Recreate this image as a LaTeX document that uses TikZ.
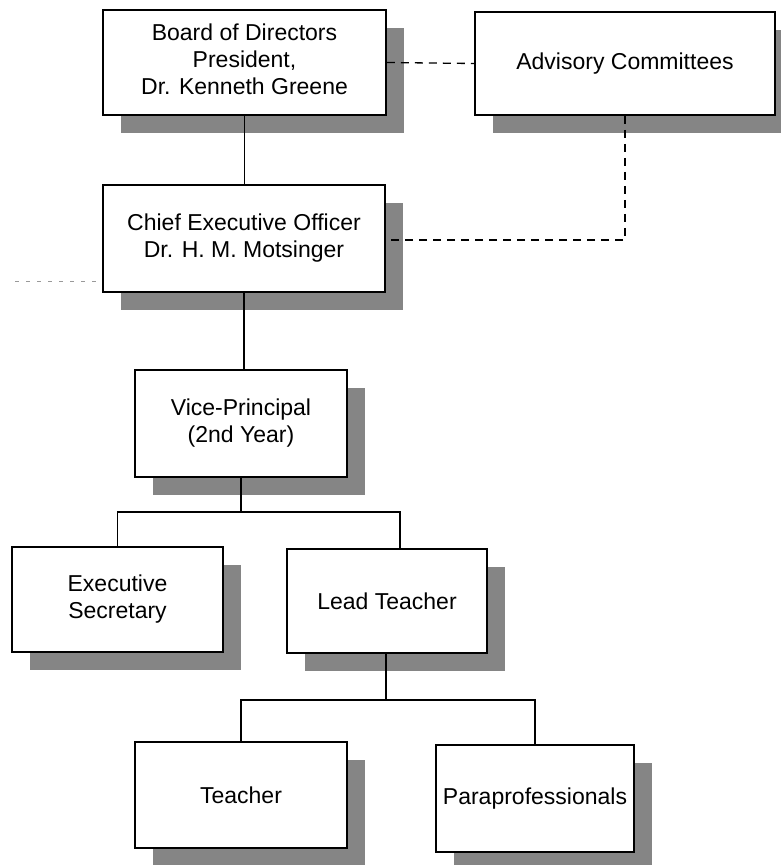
\documentclass[tikz,border=0pt]{standalone}
\usepackage{fontspec}
\setmainfont{Liberation Sans}
\usetikzlibrary{shadows}
\newcommand{\raisedlines}[2]{\raisebox{#1}{\begin{tabular}{@{}c@{}}#2\end{tabular}}}
\begin{document}
\begin{tikzpicture}[x=1pt,y=-1pt,
  orgbox/.style={draw=black, line width=1.6pt, fill=white, align=center, inner sep=0pt,
    font=\fontsize{23}{27}\selectfont,
    drop shadow={shadow xshift=18pt, shadow yshift=-18pt, fill=black!48, opacity=1}},
  conn/.style={line width=1.3pt},
  dconn/.style={line width=1.3pt, dash pattern=on 8pt off 6pt},
  faint/.style={line width=0.9pt, draw=black!40, dash pattern=on 4pt off 7pt}]
\useasboundingbox (0,0) rectangle (780,865);
\node[orgbox, minimum width=283pt, minimum height=105pt] (board) at (244.5,62.5)
  {\raisedlines{5pt}{Board of Directors\\President,\\Dr. Kenneth Greene}};
\node[orgbox, minimum width=300pt, minimum height=103pt] (adv) at (625,63.5)
  {Advisory Committees};
\node[orgbox, minimum width=282pt, minimum height=107pt] (ceo) at (244,238.5)
  {\raisedlines{5pt}{Chief Executive Officer\\Dr. H. M. Motsinger}};
\node[orgbox, minimum width=212pt, minimum height=107pt] (vp) at (241,423.5)
  {Vice-Principal\\(2nd Year)};
\node[orgbox, minimum width=211pt, minimum height=105pt] (sec) at (117.5,599.5)
  {Executive\\Secretary};
\node[orgbox, minimum width=200pt, minimum height=104pt] (lead) at (387,601)
  {Lead Teacher};
\node[orgbox, minimum width=212pt, minimum height=106pt] (teach) at (241,795)
  {Teacher};
\node[orgbox, minimum width=198pt, minimum height=107pt] (para) at (535,798.5)
  {Paraprofessionals};
% solid connectors
\draw[conn] (board.south) -- (board.south |- ceo.north);
\draw[conn] (ceo.south) -- (ceo.south |- vp.north);
\coordinate (vpbus) at (241,512);
\draw[conn] (vp.south) -- (vpbus);
\draw[conn] (sec.north) |- (vpbus) -| (400,0 |- lead.north);
\coordinate (ltbus) at (386,700);
\draw[conn] (386,0 |- lead.south) -- (ltbus);
\draw[conn] (teach.north) |- (ltbus) -| (para.north);
% dashed connectors
\draw[dconn] (board.east) -- (adv.west);
\draw[dconn] (adv.south) -- (625,240) -- (ceo.east |- 0,240);
\coordinate (faintstart) at (15,281);
\draw[faint] (faintstart) -- (ceo.west |- faintstart);
\end{tikzpicture}
\end{document}
